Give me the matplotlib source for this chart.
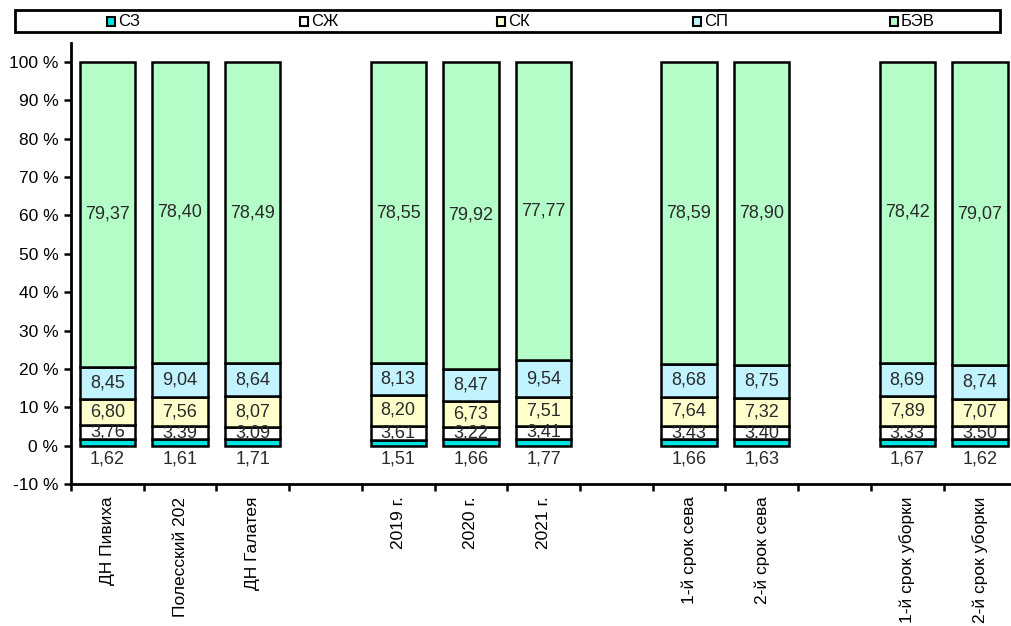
import numpy as np
import matplotlib.pyplot as plt
from matplotlib.patches import Rectangle

# Категории (пустые строки - промежутки между группами)
categories = ['ДН Пивиха', 'Полесский 202', 'ДН Галатея', '',
              '2019 г.', '2020 г.', '2021 г.', '',
              '1-й срок сева', '2-й срок сева', '',
              '1-й срок уборки', '2-й срок уборки']

sz = [1.62, 1.61, 1.71, None, 1.51, 1.66, 1.77, None, 1.66, 1.63, None, 1.67, 1.62]
szh = [3.76, 3.39, 3.09, None, 3.61, 3.22, 3.41, None, 3.43, 3.40, None, 3.33, 3.50]
sk = [6.80, 7.56, 8.07, None, 8.20, 6.73, 7.51, None, 7.64, 7.32, None, 7.89, 7.07]
sp = [8.45, 9.04, 8.64, None, 8.13, 8.47, 9.54, None, 8.68, 8.75, None, 8.69, 8.74]
bev = [79.37, 78.40, 78.49, None, 78.55, 79.92, 77.77, None, 78.59, 78.90, None, 78.42, 79.07]

series_names = ['СЗ', 'СЖ', 'СК', 'СП', 'БЭВ']
series_colors = ['#00E3E3', '#FFFFFF', '#FFFFCC', '#C2F4FF', '#B4FCC8']

plt.rcParams['font.family'] = ['Liberation Sans', 'DejaVu Sans']

fig = plt.figure(figsize=(10.11, 6.26), dpi=100)
ax = fig.add_axes([0.0702, 0.2268, 0.935, 0.7048])

x = np.arange(len(categories))
data = [np.array([np.nan if v is None else v for v in s]) for s in (sz, szh, sk, sp, bev)]

bottom = np.zeros(len(categories))
for i, (vals, name, col) in enumerate(zip(data, series_names, series_colors)):
    ax.bar(x, vals, bottom=bottom, width=0.76, color=col, edgecolor='black',
           linewidth=1.8, label=name)
    for xi, v, b in zip(x, vals, bottom):
        if np.isnan(v):
            continue
        txt = f'{v:.2f}'.replace('.', ',')
        if i == 0:
            ax.text(xi, -3.4, txt, ha='center', va='center', fontsize=13, color='#2a2a2a')
        else:
            ax.text(xi, b + v / 2, txt, ha='center', va='center', fontsize=13, color='#2a2a2a')
    bottom = bottom + np.nan_to_num(vals)

ax.set_xlim(-0.5, len(categories) - 0.5)
ax.set_ylim(-10, 105)
ax.set_yticks(np.arange(-10, 101, 10))
ax.set_yticklabels([f'{t} %' for t in range(-10, 101, 10)], fontsize=12.5)

ax.set_xticks(x)
ax.set_xticklabels(categories, rotation=90, fontsize=12.5, va='top')
ax.set_xticks(np.arange(-0.5, len(categories), 1), minor=True)
ax.tick_params(axis='x', which='major', length=0, pad=9)
ax.tick_params(axis='x', which='minor', length=5, width=1.8, direction='out')
ax.tick_params(axis='y', length=5, width=1.8, direction='out', pad=4)

for s in ['top', 'right']:
    ax.spines[s].set_visible(False)
for s in ['left', 'bottom']:
    ax.spines[s].set_linewidth(2)

# Легенда в рамке сверху
fig.add_artist(Rectangle((15 / 1011, 1 - 32 / 626), 985 / 1011, 22 / 626,
                         transform=fig.transFigure, facecolor='white',
                         edgecolor='black', linewidth=2))
leg_x = [107, 300, 497, 693, 890]
for lx, name, col in zip(leg_x, series_names, series_colors):
    fig.add_artist(Rectangle((lx / 1011, 1 - 26 / 626), 8 / 1011, 9 / 626,
                             transform=fig.transFigure, facecolor=col,
                             edgecolor='black', linewidth=1.5))
    fig.text((lx + 11) / 1011, 1 - 21 / 626, name, ha='left', va='center',
             fontsize=12, family=['Liberation Sans Narrow', 'Liberation Sans'])

fig.savefig('out.png', dpi=100)
